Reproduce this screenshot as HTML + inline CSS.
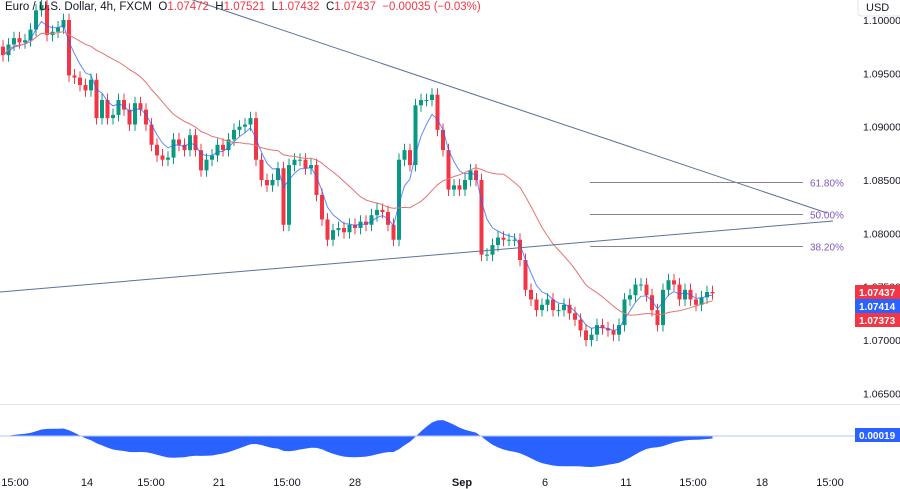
<!DOCTYPE html>
<html><head><meta charset="utf-8"><style>
html,body{margin:0;padding:0;background:#fff;width:900px;height:489px;overflow:hidden;font-family:"Liberation Sans",sans-serif;}
svg{display:block}
</style></head><body>
<svg id="chart" width="900" height="489" viewBox="0 0 900 489" xmlns="http://www.w3.org/2000/svg">
<g id="grid"></g>
<g id="candles"></g>
<g id="overlays"></g>
<g id="axes"></g>
</svg>
<script>
const closes=[1.0967,1.0977,1.0983,1.0979,1.0981,1.0991,1.1009,1.1014,1.0986,1.0989,1.0993,1.1000,1.0948,1.0946,1.0939,1.0934,1.0944,1.0908,1.0925,1.0908,1.0911,1.0925,1.0916,1.0902,1.0922,1.0916,1.0902,1.0883,1.0873,1.0869,1.0871,1.0888,1.0883,1.0878,1.0892,1.0878,1.0859,1.0869,1.0873,1.0883,1.0878,1.0888,1.0897,1.0900,1.0902,1.0908,1.0869,1.0850,1.0845,1.0850,1.0861,1.0808,1.0864,1.0869,1.0869,1.0861,1.0864,1.0836,1.0813,1.0794,1.0803,1.0805,1.0801,1.0808,1.0805,1.0811,1.0808,1.0817,1.0822,1.0820,1.0808,1.0794,1.0869,1.0878,1.0864,1.0920,1.0925,1.0925,1.0930,1.0897,1.0878,1.0841,1.0845,1.0841,1.0850,1.0859,1.0850,1.0780,1.0780,1.0789,1.0796,1.0794,1.0794,1.0794,1.0775,1.0747,1.0738,1.0728,1.0733,1.0738,1.0728,1.0728,1.0733,1.0725,1.0719,1.0709,1.0700,1.0705,1.0714,1.0711,1.0709,1.0705,1.0714,1.0738,1.0742,1.0752,1.0752,1.0742,1.0728,1.0714,1.0747,1.0756,1.0752,1.0738,1.0747,1.0738,1.0733,1.0740,1.0745,1.07437];
const priceTicks=[1.100,1.095,1.090,1.085,1.080,1.075,1.070,1.065];
const timeLabels=["15:00","14","15:00","21","15:00","28","Sep","6","11","15:00","18","15:00"];
const timeLabelX=[15,87,151,219,287,355,462,545,626,693,762,830];
const fibLevels=[{lab:"61.80%",p:1.0848},{lab:"50.00%",p:1.0818},{lab:"38.20%",p:1.0788}];

const NS="http://www.w3.org/2000/svg";
function el(tag,attrs,parent){const e=document.createElementNS(NS,tag);for(const k in attrs)e.setAttribute(k,attrs[k]);parent.appendChild(e);return e;}
const yP=p=>340-(p-1.07)*10667;
const xI=i=>3+i*5.5;
const G=document.getElementById('grid'),C=document.getElementById('candles'),O=document.getElementById('overlays'),A=document.getElementById('axes');

for(let i=0;i<closes.length;i++){
  const o=i?closes[i-1]:closes[0]+0.0008, c=closes[i];
  const up=c>=o, col=up?'#089981':'#f23645';
  const hi=Math.max(o,c)+0.0006, lo=Math.min(o,c)-0.0006;
  const g=el('g',{},C);
  
  
  el('line',{x1:xI(i),x2:xI(i),y1:yP(hi),y2:yP(lo),stroke:col,'stroke-width':1},g);
  const top=yP(Math.max(o,c)),h=Math.max(1,yP(Math.min(o,c))-top);
  el('rect',{x:xI(i)-2,y:top,width:4,height:h,fill:col},g);
}
function ema(arr,n){const k=2/(n+1);let r=[],v=arr[0];arr.forEach(a=>{v=a*k+v*(1-k);r.push(v)});return r;}
function sma(arr,n){return arr.map((a,i)=>{const s=arr.slice(Math.max(0,i-n+1),i+1);return s.reduce((x,y)=>x+y,0)/s.length;});}
const maFast=ema(closes,5), maSlow=sma(closes,20);
const pathOf=(arr)=>arr.map((v,i)=>(i?'L':'M')+xI(i).toFixed(1)+','+yP(v).toFixed(1)).join('');
const mf=el('path',{d:pathOf(maFast),fill:'none',stroke:'#2962ff','stroke-opacity':0.75,'stroke-width':1},O);


const ms=el('path',{d:pathOf(maSlow),fill:'none',stroke:'#e57373','stroke-width':1},O);


const t1=el('line',{x1:190,y1:-1,x2:827,y2:213,stroke:'#5b7299','stroke-width':1},O);


const t2=el('line',{x1:0,y1:292,x2:833,y2:221,stroke:'#5b7299','stroke-width':1},O);


fibLevels.forEach(f=>{
  const y=Math.round(yP(f.p))+0.5;
  const l=el('line',{x1:590,x2:803,y1:y,y2:y,stroke:'#8a7f95','stroke-width':1},O);
  
  
  const t=el('text',{x:810,y:y+4,'font-size':10,fill:'#7e57c2'},O);t.textContent=f.lab;
  
  
});
const e12=ema(closes,12), e26=ema(closes,26);
const osc=e12.map((v,i)=>v-e26[i]);
const sm=ema(osc,3);
const mx=Math.max(...sm.map(Math.abs));
const yO=v=>436-v/mx*31;
let d='M'+xI(0)+',436';sm.forEach((v,i)=>d+='L'+xI(i).toFixed(1)+','+yO(v).toFixed(1));d+='L'+xI(sm.length-1)+',436Z';
const oa=el('path',{d:d,fill:'#2962ff'},O);


el('line',{x1:0,x2:855,y1:436,y2:436,stroke:'#b2c6f5','stroke-width':1},O);
el('line',{x1:0,x2:900,y1:404.5,y2:404.5,stroke:'#e0e3eb','stroke-width':1},A);
priceTicks.forEach(p=>{
  const t=el('text',{x:863,y:yP(p)+4,'font-size':10.5,fill:'#131722'},A);t.textContent=p.toFixed(5);
  
  
});
const ub=el('rect',{x:858,y:-4,width:44,height:20,rx:3,fill:'#fff',stroke:'#e0e3eb'},A);


const ut=el('text',{x:866,y:11,'font-size':11,fill:'#131722'},A);ut.textContent='USD';
[[1.07437,'#f23645',285],[1.07414,'#2962ff',299],[1.07373,'#f23645',313]].forEach(([v,c,y])=>{
  const r=el('rect',{x:855,y:y,width:45,height:14,fill:c},A);
  
  
  const t=el('text',{x:859,y:y+11,'font-size':10,'font-weight':'bold',fill:'#fff'},A);t.textContent=v.toFixed(5);
});
el('rect',{x:855,y:428,width:45,height:14,fill:'#2962ff'},A);
const ot=el('text',{x:859,y:439,'font-size':10,'font-weight':'bold',fill:'#fff'},A);ot.textContent='0.00019';


timeLabels.forEach((s,i)=>{
  const t=el('text',{x:timeLabelX[i],y:486,'font-size':11,fill:'#131722','text-anchor':'middle','font-weight':s==='Sep'?'bold':'normal'},A);t.textContent=s;
  
  
});
const h=el('text',{x:5,y:10,'font-size':11.5,fill:'#131722'},A);


h.innerHTML='Euro / U.S. Dollar, 4h, FXCM  O<tspan fill="#f23645">1.07472</tspan>  H<tspan fill="#f23645">1.07521</tspan>  L<tspan fill="#f23645">1.07432</tspan>  C<tspan fill="#f23645">1.07437  −0.00035 (−0.03%)</tspan>';
h.setAttribute('xml:space','preserve');
h.style.whiteSpace='pre';
</script>
</body></html>
